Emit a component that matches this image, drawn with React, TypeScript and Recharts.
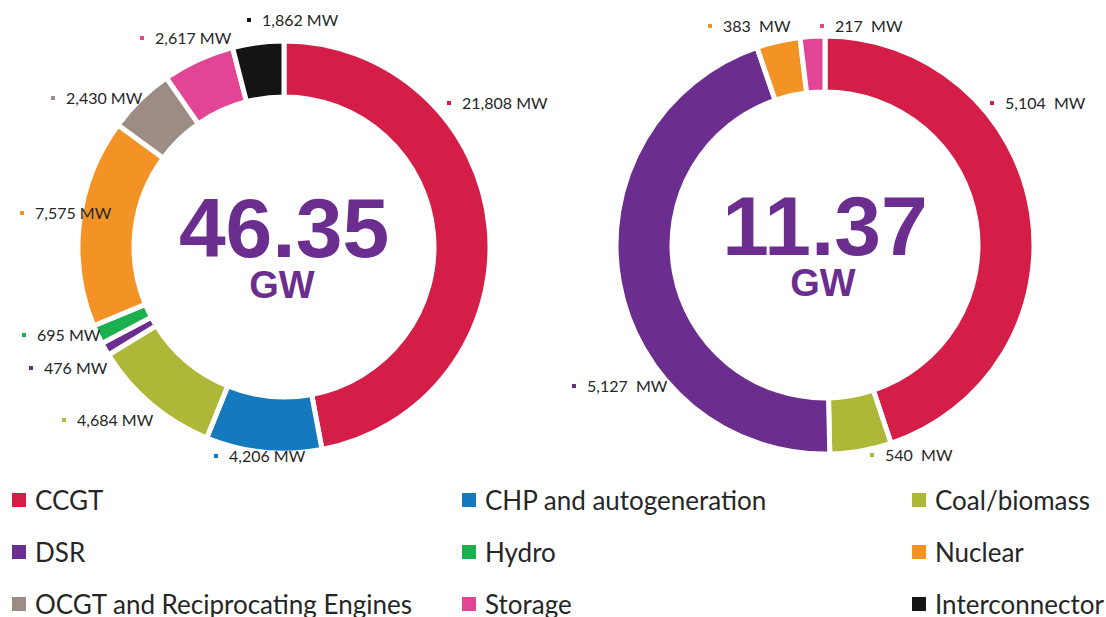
import React from 'react';
import { PieChart, Pie, Cell } from 'recharts';

const LEFT_NAMES = ['CCGT', 'CHP and autogeneration', 'Coal/biomass', 'DSR', 'Hydro', 'Nuclear', 'OCGT and Reciprocating Engines', 'Storage', 'Interconnector'];
const LEFT_MW = [21808, 4206, 4684, 476, 695, 7575, 2430, 2617, 1862];
const RIGHT_NAMES = ['CCGT', 'Coal/biomass', 'DSR', 'Nuclear', 'Storage'];
const RIGHT_MW = [5104, 540, 5127, 383, 217];

const COLORS: Record<string, string> = {
  'CCGT': '#D41E47',
  'CHP and autogeneration': '#1479BD',
  'Coal/biomass': '#ADB738',
  'DSR': '#6B2D8E',
  'Hydro': '#1BB04E',
  'Nuclear': '#F39325',
  'OCGT and Reciprocating Engines': '#9C8C84',
  'Storage': '#E24596',
  'Interconnector': '#141414',
};

// hand placed label anchors (offset from pie centre), like the original
const LEFT_LABEL_POS = [[165, -144], [-68, 209], [-220, 173], [-253, 121], [-260, 88], [-262, -34], [-231, -149], [-142, -209], [-35, -227]];
const RIGHT_LABEL_POS = [[167, -142], [47, 210], [-251, 141], [-115, -219], [-3, -219]];

const LEFT_C = { x: 284, y: 247 };
const RIGHT_C = { x: 825, y: 245 };

const PURPLE = '#6B2D8E';
const FONT = 'Lato, "Open Sans", sans-serif';
const BOLD = '"Liberation Sans", Arial, sans-serif';

const toRows = (names: string[], values: number[]) => names.map((name, i) => ({ name, value: values[i] }));
const leftData = toRows(LEFT_NAMES, LEFT_MW);
const rightData = toRows(RIGHT_NAMES, RIGHT_MW);

const gw = (values: number[]) => (values.reduce((a, b) => a + b, 0) / 1000).toFixed(2);

function makeLabel(pos: number[][], spaced: boolean) {
  return (props: any) => {
    const { cx, cy, index, payload } = props;
    const [dx, dy] = pos[index];
    const x = cx + dx;
    const y = cy + dy;
    const txt = payload.value.toLocaleString('en-US') + (spaced ? '  MW' : ' MW');
    return (
      <g key={`lbl-${index}`}>
        <rect x={x - 2} y={y - 2} width={4} height={4} fill={COLORS[payload.name]} />
        <text x={x + 13} y={y} dy="0.35em" fontSize={16} fontFamily={FONT} fill="#262626" style={{ whiteSpace: 'pre' }}>
          {txt}
        </text>
      </g>
    );
  };
}

function Centre({ c, total }: { c: { x: number; y: number }; total: string }) {
  return (
    <>
      <div style={{ position: 'absolute', left: c.x - 150, width: 300, top: c.y - 54, textAlign: 'center', fontFamily: BOLD, fontWeight: 'bold', fontSize: 84, lineHeight: '70px', color: PURPLE }}>
        {total}
      </div>
      <div style={{ position: 'absolute', left: c.x - 152, width: 300, top: c.y + 23, textAlign: 'center', fontFamily: BOLD, fontWeight: 'bold', fontSize: 38, lineHeight: '30px', color: PURPLE }}>
        GW
      </div>
    </>
  );
}

function LegendBlock() {
  const colX = [12, 462, 912];
  return (
    <div style={{ position: 'absolute', left: 0, top: 474, width: 1106, height: 143 }}>
      {LEFT_NAMES.map((name, i) => (
        <div
          key={name}
          style={{
            position: 'absolute',
            left: colX[i % 3],
            top: 13 + Math.floor(i / 3) * 52,
            display: 'flex',
            alignItems: 'center',
            fontFamily: FONT,
            fontSize: 26,
            lineHeight: '26px',
            color: '#262626',
            whiteSpace: 'nowrap',
          }}
        >
          <span style={{ display: 'inline-block', width: 14, height: 14, background: COLORS[name], marginRight: 9 }} />
          {name}
        </div>
      ))}
    </div>
  );
}

export default function App() {
  return (
    <div style={{ position: 'absolute', left: 0, top: 0, width: 1106, height: 617, background: '#fff' }}>
      <PieChart width={1106} height={474} margin={{ top: 0, right: 0, bottom: 0, left: 0 }}>
        <Pie
          data={leftData}
          dataKey="value"
          nameKey="name"
          cx={LEFT_C.x}
          cy={LEFT_C.y}
          innerRadius={150}
          outerRadius={206}
          startAngle={90}
          endAngle={-270}
          stroke="#fff"
          strokeWidth={5}
          label={makeLabel(LEFT_LABEL_POS, false)}
          labelLine={false}
          isAnimationActive={false}
        >
          {leftData.map((d) => (
            <Cell key={d.name} fill={COLORS[d.name]} />
          ))}
        </Pie>
        <Pie
          data={rightData}
          dataKey="value"
          nameKey="name"
          cx={RIGHT_C.x}
          cy={RIGHT_C.y}
          innerRadius={153}
          outerRadius={209}
          startAngle={90}
          endAngle={-270}
          stroke="#fff"
          strokeWidth={5}
          label={makeLabel(RIGHT_LABEL_POS, true)}
          labelLine={false}
          isAnimationActive={false}
        >
          {rightData.map((d) => (
            <Cell key={d.name} fill={COLORS[d.name]} />
          ))}
        </Pie>
      </PieChart>
      <Centre c={LEFT_C} total={gw(LEFT_MW)} />
      <Centre c={RIGHT_C} total={gw(RIGHT_MW)} />
      <LegendBlock />
    </div>
  );
}
